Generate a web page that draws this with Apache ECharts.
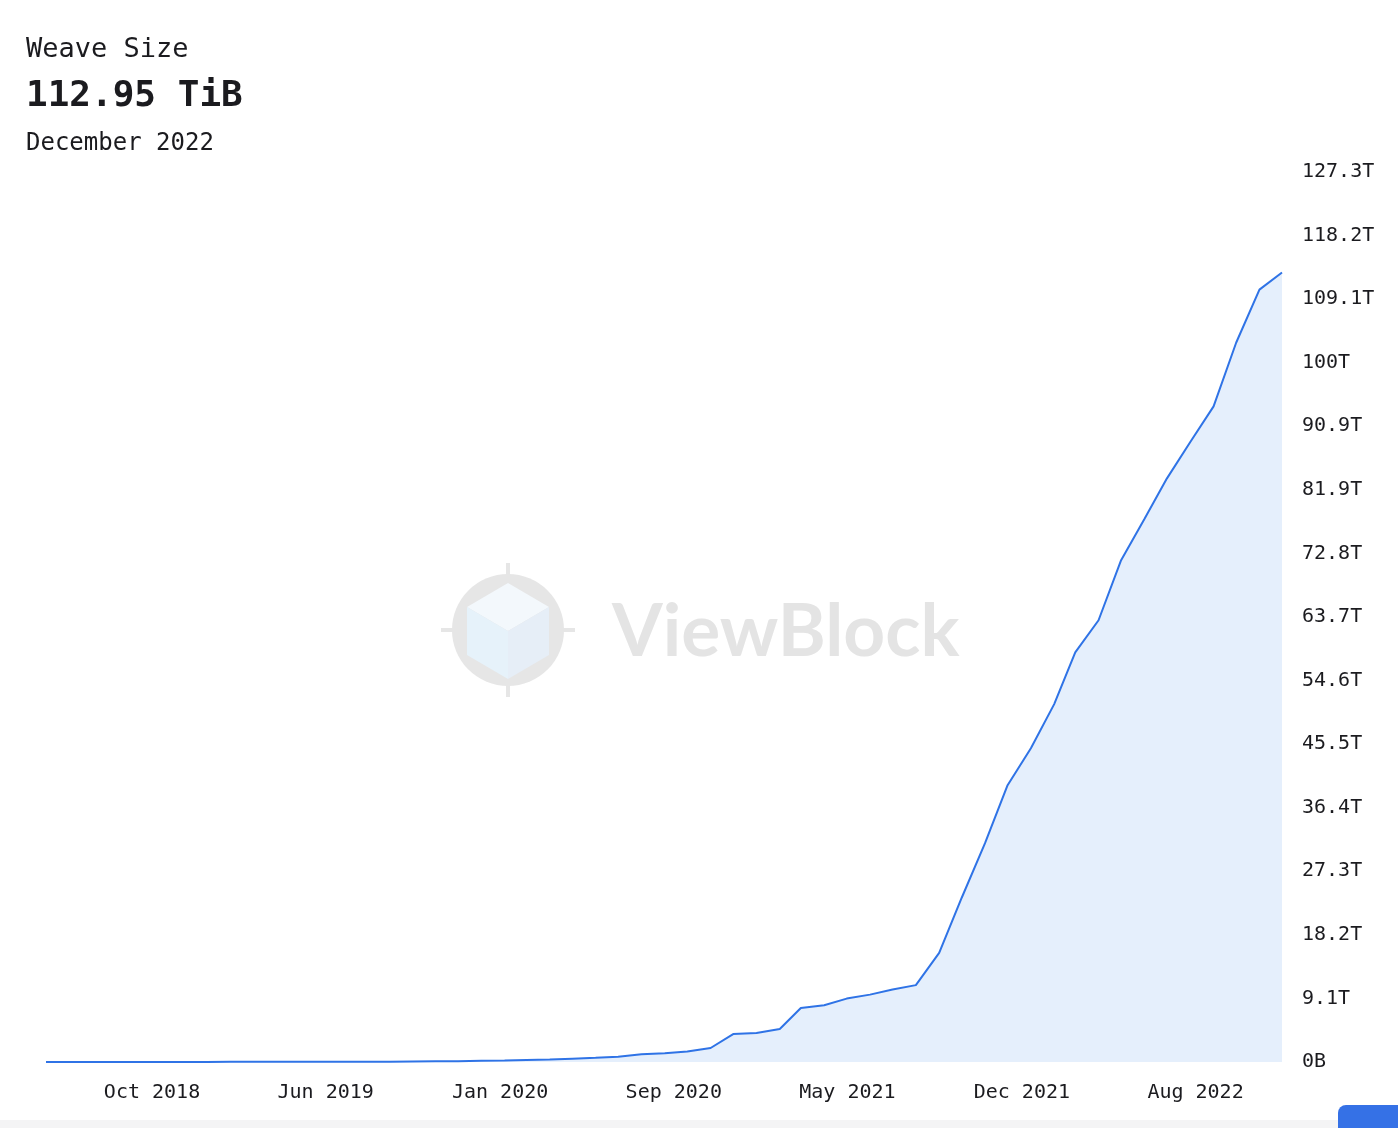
<!DOCTYPE html>
<html>
<head>
<meta charset="utf-8">
<title>Weave Size</title>
<script src="https://cdn.jsdelivr.net/npm/echarts@6/dist/echarts.min.js"></script>
<style>
    html, body { margin: 0; padding: 0; background: #fff; }
    #chart { width: 1398px; height: 1128px; }
</style>
</head>
<body>
<div id="chart"></div>
<script>
// monthly snapshots, first of each month
var months = [
    '2018-06-01', '2018-07-01', '2018-08-01', '2018-09-01', '2018-10-01', '2018-11-01', '2018-12-01',
    '2019-01-01', '2019-02-01', '2019-03-01', '2019-04-01', '2019-05-01', '2019-06-01', '2019-07-01',
    '2019-08-01', '2019-09-01', '2019-10-01', '2019-11-01', '2019-12-01', '2020-01-01', '2020-02-01',
    '2020-03-01', '2020-04-01', '2020-05-01', '2020-06-01', '2020-07-01', '2020-08-01', '2020-09-01',
    '2020-10-01', '2020-11-01', '2020-12-01', '2021-01-01', '2021-02-01', '2021-03-01', '2021-04-01',
    '2021-05-01', '2021-06-01', '2021-07-01', '2021-08-01', '2021-09-01', '2021-10-01', '2021-11-01',
    '2021-12-01', '2022-01-01', '2022-02-01', '2022-03-01', '2022-04-01', '2022-05-01', '2022-06-01',
    '2022-07-01', '2022-08-01', '2022-09-01', '2022-10-01', '2022-11-01', '2022-12-01'
];

// weave size in TiB
var weaveSize = [
    0.002, 0.004, 0.006, 0.008, 0.01, 0.012, 0.014,
    0.016, 0.018, 0.02, 0.023, 0.026, 0.03, 0.035,
    0.04, 0.05, 0.08, 0.1, 0.12, 0.19, 0.21,
    0.3, 0.36, 0.48, 0.6, 0.75, 1.1, 1.25,
    1.49, 2.0, 4.0, 4.15, 4.72, 7.73, 8.11,
    9.07, 9.64, 10.36, 11.0, 15.6, 23.5, 31.3,
    39.6, 44.9, 51.2, 58.6, 63.2, 71.8, 77.7,
    83.5, 88.7, 93.8, 102.9, 110.5, 112.95
];

// dates where the x axis labels sit
var tickDates = ['2018-10-20', '2019-06-08', '2020-01-26', '2020-09-13', '2021-05-02', '2021-12-20', '2022-08-08'];

// 10 TB steps expressed in TiB
var yStep = 1e13 / Math.pow(2, 40);
var ySteps = 14;

var FONT = '"DejaVu Sans Mono", "Liberation Mono", monospace';
var TEXT = '#1b1b1f';

var seriesData = months.map(function (m, i) {
    return [m, weaveSize[i]];
});

var chart = echarts.init(document.getElementById('chart'), null, {renderer: 'canvas'});

chart.setOption({
    animation: false,
    backgroundColor: '#fff',
    title: [
        {
            text: 'Weave Size',
            left: 26, top: 36, padding: 0,
            textStyle: {fontFamily: FONT, fontSize: 27, fontWeight: 'normal', color: TEXT, lineHeight: 28}
        },
        {
            text: '112.95 TiB',
            left: 26, top: 79, padding: 0,
            textStyle: {fontFamily: FONT, fontSize: 36, fontWeight: 'bold', color: TEXT, lineHeight: 36}
        },
        {
            text: 'December 2022',
            left: 26, top: 132, padding: 0,
            textStyle: {fontFamily: FONT, fontSize: 24, fontWeight: 'normal', color: TEXT, lineHeight: 24}
        }
    ],
    grid: {
        left: 46,
        right: 116,
        top: 172,
        bottom: 66,
        containLabel: false
    },
    xAxis: {
        type: 'time',
        min: months[0],
        max: months[months.length - 1],
        axisLine: {show: false},
        axisTick: {show: false},
        splitLine: {show: false},
        axisLabel: {
            customValues: tickDates.map(function (d) { return +new Date(d + 'T00:00:00'); }),
            formatter: '{MMM} {yyyy}',
            fontFamily: FONT,
            fontSize: 20,
            color: TEXT,
            margin: 21,
            hideOverlap: false
        }
    },
    yAxis: {
        type: 'value',
        position: 'right',
        min: 0,
        max: yStep * ySteps,
        interval: yStep,
        axisLine: {show: false},
        axisTick: {show: false},
        splitLine: {show: false},
        axisLabel: {
            fontFamily: FONT,
            fontSize: 20,
            color: TEXT,
            margin: 20,
            showMaxLabel: true,
            formatter: function (v) {
                if (v < 1e-6) return '0B';
                return (Math.round(v * 10) / 10) + 'T';
            }
        }
    },
    graphic: [
        // ViewBlock watermark
        {
            type: 'group',
            z: -10,
            silent: true,
            children: [
                {type: 'line', shape: {x1: 441, y1: 630, x2: 575, y2: 630}, style: {stroke: '#e6e6e6', lineWidth: 4}},
                {type: 'line', shape: {x1: 508, y1: 563, x2: 508, y2: 697}, style: {stroke: '#e6e6e6', lineWidth: 4}},
                {type: 'circle', shape: {cx: 508, cy: 630, r: 56}, style: {fill: '#e6e6e6'}},
                {type: 'polygon', shape: {points: [[508, 583], [549, 607], [508, 631], [467, 607]]}, style: {fill: '#f3f8fc'}},
                {type: 'polygon', shape: {points: [[467, 607], [508, 631], [508, 679], [467, 655]]}, style: {fill: '#e6f2fa'}},
                {type: 'polygon', shape: {points: [[508, 631], [549, 607], [549, 655], [508, 679]]}, style: {fill: '#e6eef7'}},
                {
                    type: 'text', x: 612, y: 632,
                    style: {
                        text: 'ViewBlock', fill: '#e4e4e4',
                        font: 'bold 73px Lato, "Open Sans", sans-serif',
                        textVerticalAlign: 'middle'
                    }
                }
            ]
        },
        // page footer strip
        {type: 'rect', z: 100, shape: {x: 0, y: 1120, width: 1398, height: 8}, style: {fill: '#f4f4f5'}},
        {type: 'rect', z: 101, shape: {x: 1338, y: 1105, width: 70, height: 30, r: [8, 8, 0, 0]}, style: {fill: '#3571e6'}}
    ],
    series: [{
        name: 'Weave Size',
        type: 'line',
        data: seriesData,
        showSymbol: false,
        symbol: 'none',
        lineStyle: {color: '#2f73e6', width: 2},
        itemStyle: {color: '#2f73e6'},
        areaStyle: {color: '#e5effc', opacity: 1}
    }]
});
</script>
</body>
</html>
